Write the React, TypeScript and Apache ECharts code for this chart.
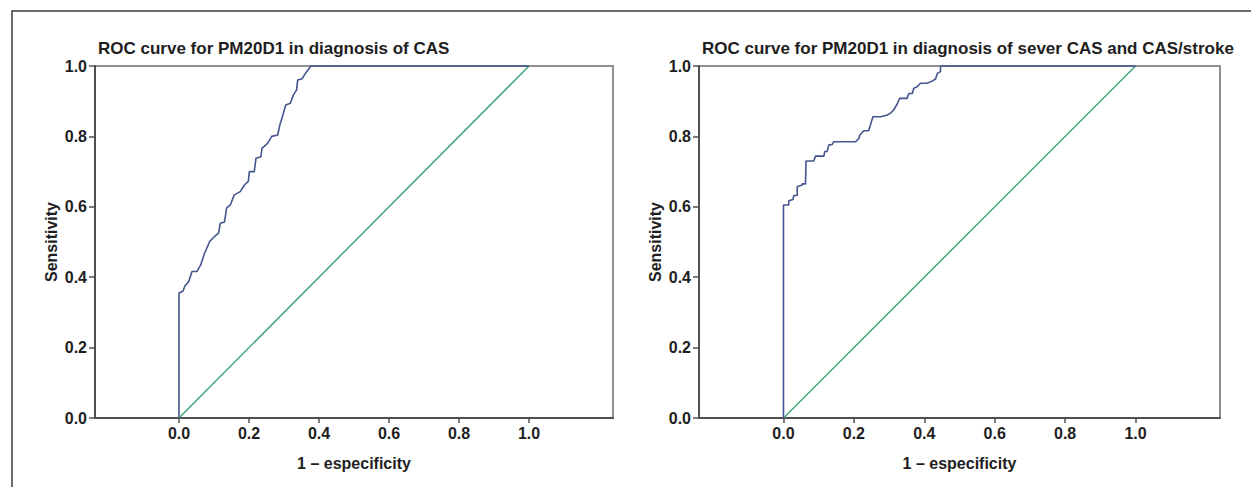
import React, { useEffect, useRef } from "react";
import * as echarts from "echarts";

const TITLES = [
  "ROC curve for PM20D1 in diagnosis of CAS",
  "ROC curve for PM20D1 in diagnosis of sever CAS and CAS/stroke",
];
const X_NAME = "1 – especificity";
const Y_NAME = "Sensitivity";
const X_TICKS = [0, 0.2, 0.4, 0.6, 0.8, 1.0];
const Y_TICKS = [0, 0.2, 0.4, 0.6, 0.8, 1.0];

// [1 - specificity, sensitivity]
const CAS_CURVE: [number, number][] = [
  [0, 0], [0, 0.355], [0.011, 0.36], [0.017, 0.375], [0.028, 0.388], [0.037, 0.416],
  [0.051, 0.416], [0.062, 0.435], [0.073, 0.468], [0.088, 0.502], [0.101, 0.515],
  [0.113, 0.525], [0.118, 0.553], [0.13, 0.557], [0.136, 0.596], [0.147, 0.606],
  [0.158, 0.634], [0.175, 0.643], [0.187, 0.662], [0.198, 0.672], [0.201, 0.7],
  [0.215, 0.7], [0.22, 0.738], [0.234, 0.742], [0.237, 0.766], [0.253, 0.78],
  [0.265, 0.8], [0.282, 0.804], [0.288, 0.832], [0.296, 0.858], [0.305, 0.889],
  [0.318, 0.894], [0.327, 0.918], [0.336, 0.932], [0.339, 0.96], [0.352, 0.964],
  [0.361, 0.979], [0.377, 1.0], [1, 1],
];

const SEVERE_CURVE: [number, number][] = [
  [0, 0], [0, 0.605], [0.015, 0.605], [0.015, 0.617], [0.027, 0.621], [0.029, 0.632],
  [0.039, 0.632], [0.039, 0.657], [0.053, 0.662], [0.053, 0.665], [0.0625, 0.665],
  [0.064, 0.73], [0.086, 0.73], [0.091, 0.744], [0.115, 0.744], [0.117, 0.757],
  [0.124, 0.757], [0.129, 0.776], [0.138, 0.777], [0.143, 0.785], [0.205, 0.785],
  [0.214, 0.794], [0.217, 0.804], [0.228, 0.816], [0.242, 0.816], [0.254, 0.856],
  [0.276, 0.856], [0.295, 0.861], [0.304, 0.866], [0.313, 0.875], [0.323, 0.892],
  [0.33, 0.908], [0.351, 0.908], [0.356, 0.922], [0.366, 0.922], [0.37, 0.937],
  [0.38, 0.941], [0.389, 0.951], [0.408, 0.951], [0.422, 0.957], [0.432, 0.963],
  [0.437, 0.979], [0.446, 0.984], [0.446, 1.0], [1, 1],
];

const REFERENCE_LINE: [number, number][] = [[0, 0], [1, 1]];

const FONT = "'Liberation Sans', Arial, Helvetica, sans-serif";
const TEXT_COLOR = "#1e1e1e";
const AXIS_COLOR = "#505050";
const CURVE_COLOR = "#44558f";
const DIAG_COLOR = "#45a777";

export default function App() {
  const ref = useRef<HTMLDivElement>(null);

  useEffect(() => {
    if (!ref.current) return;
    const chart = echarts.init(ref.current, undefined, { renderer: "svg" });

    const grids = [
      { left: 95, top: 66, width: 518, height: 352 },
      { left: 699, top: 66, width: 521, height: 352 },
    ];

    const xAxes = grids.map((_, i) => ({
      type: "value",
      gridIndex: i,
      min: -0.24,
      max: 1.24,
      name: X_NAME,
      nameLocation: "middle",
      nameGap: 37,
      nameTextStyle: { fontFamily: FONT, fontWeight: "bold", fontSize: 16, color: TEXT_COLOR },
      axisLine: { show: true, onZero: false, lineStyle: { color: AXIS_COLOR, width: 2 } },
      axisTick: {
        show: true,
        length: 5,
        customValues: X_TICKS,
        lineStyle: { color: AXIS_COLOR, width: 1.5 },
      },
      axisLabel: {
        customValues: X_TICKS,
        margin: 7,
        formatter: (v: number) => v.toFixed(1),
        fontFamily: FONT,
        fontWeight: "bold",
        fontSize: 16,
        color: TEXT_COLOR,
      },
      splitLine: { show: false },
    }));

    const yAxes = grids.map((_, i) => ({
      type: "value",
      gridIndex: i,
      min: 0,
      max: 1,
      interval: 0.2,
      name: Y_NAME,
      nameLocation: "middle",
      nameGap: 36,
      nameTextStyle: { fontFamily: FONT, fontWeight: "bold", fontSize: 16, color: TEXT_COLOR },
      axisLine: { show: true, onZero: false, lineStyle: { color: AXIS_COLOR, width: 2 } },
      axisTick: { show: true, length: 6, lineStyle: { color: AXIS_COLOR, width: 1.5 } },
      axisLabel: {
        margin: 8,
        formatter: (v: number) => v.toFixed(1),
        fontFamily: FONT,
        fontWeight: "bold",
        fontSize: 16,
        color: TEXT_COLOR,
        showMinLabel: true,
        showMaxLabel: true,
      },
      splitLine: { show: false },
      data: Y_TICKS,
    }));

    const curves = [CAS_CURVE, SEVERE_CURVE];
    const series: any[] = [];
    curves.forEach((curve, i) => {
      series.push({
        type: "line",
        xAxisIndex: i,
        yAxisIndex: i,
        data: REFERENCE_LINE,
        showSymbol: false,
        clip: false,
        z: 2,
        lineStyle: { color: DIAG_COLOR, width: 1.5 },
      });
      series.push({
        type: "line",
        xAxisIndex: i,
        yAxisIndex: i,
        data: curve,
        showSymbol: false,
        clip: false,
        z: 3,
        lineStyle: { color: CURVE_COLOR, width: 1.6 },
      });
    });

    chart.setOption({
      animation: false,
      backgroundColor: "#ffffff",
      title: TITLES.map((t, i) => ({
        text: t,
        left: grids[i].left + 3,
        top: 38,
        padding: 0,
        textStyle: {
          fontFamily: FONT,
          fontWeight: "bold",
          fontSize: 17,
          lineHeight: 20,
          color: TEXT_COLOR,
        },
      })),
      grid: grids.map((g) => ({
        ...g,
        show: true,
        borderColor: "#8e8e8e",
        borderWidth: 2,
        backgroundColor: "transparent",
      })),
      xAxis: xAxes,
      yAxis: yAxes,
      series,
      graphic: [
        {
          type: "polyline",
          silent: true,
          shape: { points: [[12, 490], [12, 11], [1255, 11]] },
          style: { stroke: "#3a3a3a", lineWidth: 1.5, fill: "none" },
        },
      ],
    });

    return () => chart.dispose();
  }, []);

  return (
    <div
      ref={ref}
      style={{ position: "fixed", left: 0, top: 0, width: 1251, height: 487, background: "#fff" }}
    />
  );
}
